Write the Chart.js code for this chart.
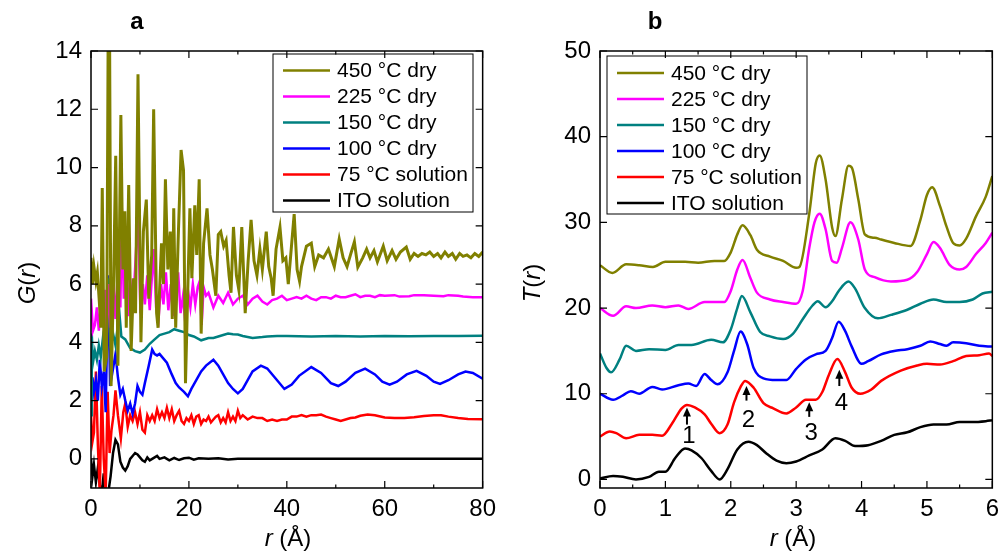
<!DOCTYPE html>
<html>
<head>
<meta charset="utf-8">
<script src="https://cdn.jsdelivr.net/npm/chart.js@4.4.0/dist/chart.umd.min.js"></script>
<style>
  body { margin: 0; background: #fff; }
  #wrap { position: relative; width: 1006px; height: 556px; }
  canvas { position: absolute; top: 0; }
</style>
</head>
<body>
<div id="wrap">
  <canvas id="chart-a" width="503" height="556" style="left:0"></canvas>
  <canvas id="chart-b" width="503" height="556" style="left:503px"></canvas>
</div>
<script>
const FONT = "'Liberation Sans', Arial, sans-serif";

const seriesLabels = ["450 °C dry", "225 °C dry", "150 °C dry", "100 °C dry", "75 °C solution", "ITO solution"];
const seriesColors = ["#808000", "#ff00ff", "#008080", "#0000ff", "#ff0000", "#000000"];

// panel a ticks
const aXLabels = [0, 20, 40, 60, 80];
const aXMinor = [10, 30, 50, 70];
const aYLabels = [0, 2, 4, 6, 8, 10, 12, 14];
// panel b ticks
const bXLabels = [0, 1, 2, 3, 4, 5, 6];
const bXMinor = [0.5, 1.5, 2.5, 3.5, 4.5, 5.5];
const bYLabels = [0, 10, 20, 30, 40, 50];

// panel a: G(r), [r, G]
const gO450 = [[0,6.9],[0.3,6.0],[0.6,6.6],[1.0,6.1],[1.3,6.4],[1.7,5.4],[2.0,4.5],[2.3,9.3],[2.7,3.0],[3.2,3.5],[3.5,14.5],[3.8,14.5],[4.1,2.5],[4.6,6.0],[5.05,10.4],[5.5,3.2],[6.1,11.8],[6.5,6.5],[6.9,8.5],[7.2,4.5],[7.7,9.4],[8.2,3.7],[8.7,6.2],[9.1,5.0],[9.6,13.2],[10.2,4.0],[10.7,7.8],[11.3,8.9],[11.8,5.5],[12.4,7.0],[12.8,12.0],[13.4,5.0],[13.7,4.5],[14.4,7.4],[14.8,6.0],[15.2,9.6],[15.7,6.5],[16.2,7.8],[16.6,4.8],[16.9,8.6],[17.3,4.5],[17.8,7.5],[18.4,10.6],[18.9,9.9],[19.3,2.6],[19.8,6.0],[20.2,8.6],[20.6,6.2],[21.2,8.7],[21.6,7.0],[22.1,9.6],[22.5,4.3],[23.0,7.4],[23.7,8.6],[24.3,7.0],[24.8,6.5],[25.5,5.6],[26.0,7.7],[26.5,7.8],[27.1,7.3],[27.6,7.5],[28.2,6.3],[28.6,5.7],[29.1,7.96],[29.7,6.3],[30.2,5.8],[30.8,7.96],[31.5,5.0],[32.1,6.8],[32.7,8.2],[33.3,6.8],[33.9,6.3],[34.5,7.2],[35.0,6.5],[35.8,7.8],[36.3,6.6],[36.8,6.2],[37.2,5.6],[37.8,7.2],[38.6,7.95],[39.2,6.8],[39.8,6.9],[40.3,6.0],[40.8,7.0],[41.5,8.4],[42.1,6.5],[42.6,6.1],[43.0,6.6],[44.0,7.3],[45.0,7.4],[45.7,6.6],[46.5,7.0],[47.5,6.9],[48.5,7.2],[49.7,6.6],[50.7,7.55],[51.5,6.9],[52.3,6.6],[53.0,7.0],[53.8,7.45],[54.5,6.58],[55.5,6.9],[56.3,7.2],[57.0,6.9],[57.8,7.15],[58.5,6.76],[59.7,7.3],[60.5,6.8],[61.5,7.15],[62.3,6.85],[63.2,7.1],[64.4,7.27],[65.2,6.85],[66.0,7.05],[66.8,6.95],[67.6,7.05],[68.4,7.0],[69.2,7.1],[70.0,6.95],[70.8,7.05],[71.5,6.9],[72.3,7.1],[73.0,6.95],[73.8,7.05],[74.5,6.85],[75.3,7.05],[76.0,6.95],[76.8,7.0],[77.6,6.9],[78.4,7.05],[79.2,6.95],[80,7.1]];
const gM225 = [[0,5.5],[0.4,4.4],[0.8,4.6],[1.2,5.2],[1.6,4.4],[2.0,5.3],[2.4,4.6],[2.8,5.8],[3.2,4.2],[3.6,6.0],[4.0,4.5],[4.5,6.2],[5.0,4.8],[5.5,6.5],[6.0,5.2],[6.3,8.6],[6.7,5.5],[7.2,6.6],[7.6,4.9],[8.0,6.2],[8.5,5.0],[9.0,6.5],[9.6,8.5],[10.1,5.0],[10.6,6.0],[11.0,5.3],[11.5,6.3],[12.0,5.1],[12.5,6.4],[12.8,7.2],[13.3,5.2],[13.8,4.8],[14.3,6.0],[14.8,5.3],[15.3,6.4],[15.8,5.1],[16.3,6.0],[16.8,4.9],[17.3,5.8],[17.8,6.4],[18.3,5.0],[18.8,5.6],[19.3,4.6],[19.8,5.8],[20.3,5.2],[20.8,6.0],[21.3,5.3],[21.8,5.9],[22.2,6.1],[22.6,4.6],[23.0,5.9],[23.5,5.6],[24,5.7],[25,5.2],[26,5.6],[27,5.35],[28,5.7],[29,5.3],[30,5.5],[31,5.6],[32,5.3],[33,5.5],[34,5.6],[35,5.4],[36,5.3],[37,5.45],[38,5.5],[39,5.6],[40,5.45],[41,5.5],[42,5.55],[43,5.5],[44,5.6],[45,5.5],[46,5.45],[47,5.55],[48,5.55],[49,5.5],[50,5.6],[51,5.55],[52,5.55],[53,5.6],[54,5.65],[55,5.55],[56,5.6],[57,5.6],[58,5.55],[59,5.62],[60,5.6],[62,5.62],[63,5.57],[65,5.58],[66,5.62],[68,5.62],[70,5.6],[72,5.58],[73,5.62],[75,5.6],[76,5.57],[78,5.55],[80,5.55]];
const gT150 = [[0,1.5],[0.15,4.3],[0.4,3.3],[0.8,3.7],[1.2,3.4],[1.6,3.9],[2.0,3.5],[2.4,4.1],[2.8,3.6],[3.2,4.0],[3.6,6.2],[4.0,3.8],[4.5,4.3],[5.0,3.9],[5.8,5.0],[6.2,4.2],[7,4.1],[8,3.8],[9,3.7],[10,3.65],[11,3.75],[12,3.95],[13,4.1],[14,4.25],[15,4.3],[16,4.35],[17,4.45],[18,4.4],[19,4.35],[20,4.25],[21,4.2],[22.5,4.07],[24,4.15],[25,4.15],[26,4.2],[27,4.25],[28,4.3],[29,4.28],[30,4.27],[31,4.22],[33,4.15],[35,4.18],[36,4.2],[38,4.22],[40,4.22],[45,4.2],[50,4.22],[55,4.2],[60,4.22],[65,4.21],[70,4.22],[75,4.22],[80,4.23]];
const gB100 = [[0,2.0],[0.3,2.8],[0.6,2.3],[1.0,2.7],[1.4,2.0],[1.8,3.4],[2.2,2.5],[2.6,3.0],[3.0,1.6],[3.5,6.3],[3.9,2.5],[4.4,3.0],[5.0,3.6],[5.5,2.8],[6.0,2.2],[6.5,2.4],[7.0,2.0],[7.5,1.65],[8.0,1.9],[8.5,1.55],[9.0,1.9],[9.5,2.5],[10.0,2.3],[10.5,2.2],[11.0,2.6],[11.8,3.2],[12.5,3.75],[13,3.6],[13.5,3.55],[14,3.6],[14.5,3.5],[15.5,3.3],[16.5,2.9],[17.3,2.6],[18,2.45],[19,2.3],[19.8,2.15],[20.5,2.4],[21.5,2.7],[22.5,3.0],[23.5,3.2],[25,3.4],[26,3.2],[27,2.9],[28,2.6],[29,2.4],[30,2.25],[31,2.4],[32,2.7],[33,3.0],[34.7,3.2],[36,3.1],[37.5,2.8],[39.5,2.4],[41,2.55],[42.5,2.85],[45,3.15],[47,2.95],[49,2.6],[50.5,2.5],[52,2.65],[54,2.95],[56,3.1],[58,2.9],[59.5,2.65],[61,2.55],[62.5,2.65],[64.5,2.9],[66.5,3.02],[68.5,2.85],[70,2.65],[71.3,2.57],[73,2.7],[75,2.9],[76.5,3.0],[78,2.95],[80,2.75]];
const gR75 = [[0,1.5],[0.3,0.6],[0.6,0.9],[1.0,3.0],[1.4,0.5],[1.8,-1.2],[2.2,2.5],[2.6,0.0],[3.0,-1.2],[3.4,2.3],[3.8,0.2],[4.2,1.0],[4.6,1.5],[5.0,2.35],[5.5,1.5],[6.1,0.7],[6.6,1.6],[7.0,1.9],[7.5,1.1],[8.0,1.5],[8.5,1.3],[9.0,1.6],[9.5,1.2],[10.0,1.6],[10.5,1.0],[11.0,0.9],[11.5,1.5],[12,1.3],[12.5,1.5],[13,1.3],[13.5,1.7],[14,1.4],[14.5,1.6],[15,1.4],[15.5,1.75],[16,1.4],[16.5,1.7],[17,1.3],[17.5,1.5],[18,1.65],[18.5,1.3],[19,1.2],[19.5,1.4],[20,1.3],[20.5,1.5],[21,1.2],[21.5,1.45],[22,1.5],[22.5,1.2],[23,1.35],[23.5,1.3],[24,1.45],[24.5,1.25],[25,1.35],[25.5,1.45],[26,1.5],[26.5,1.25],[27,1.4],[27.5,1.25],[28,1.6],[28.5,1.3],[29,1.45],[29.5,1.3],[30,1.65],[30.5,1.4],[31,1.5],[32,1.35],[33,1.45],[34,1.4],[35,1.4],[36,1.3],[37,1.35],[38,1.3],[39,1.35],[40,1.35],[41,1.45],[42,1.45],[43,1.5],[44,1.45],[45,1.5],[46,1.5],[47,1.52],[48,1.45],[49,1.4],[50,1.35],[51,1.3],[52,1.35],[53,1.4],[54,1.42],[55,1.48],[56.5,1.52],[58,1.5],[60,1.42],[62,1.4],[64,1.4],[66,1.43],[68,1.47],[70,1.5],[71.5,1.5],[73,1.45],[75,1.4],[77,1.37],[80,1.36]];
const gIto = [[0,0],[0.3,-0.6],[0.6,-0.2],[1,-0.8],[1.4,-0.3],[1.8,-0.9],[2.2,-1.2],[2.6,-0.5],[3,-1.2],[3.5,-1.2],[4,-0.6],[4.5,0.2],[5,0.65],[5.5,0.5],[6,-0.1],[6.5,-0.3],[7,-0.4],[7.5,-0.25],[8,0],[8.5,0.1],[9,0.2],[9.5,0.15],[10,0.05],[10.5,-0.05],[11,-0.1],[11.5,0.05],[12,-0.05],[12.5,0.0],[13,0.05],[13.5,0.1],[14,0.0],[15,0.05],[16,-0.05],[17,0.03],[18,-0.04],[19,0.02],[20,0.04],[21,-0.03],[22,0.02],[24,0.0],[26,0.02],[28,-0.02],[30,0.0],[40,0.0],[50,0.0],[60,0.0],[70,0.0],[80,0.0]];

// panel b: T(r), [r, T]
const tO450 = [[0,25.0],[0.19,24.1],[0.4,25.1],[0.6,25.0],[0.81,24.8],[1.0,25.4],[1.3,25.4],[1.5,25.3],[1.75,25.5],[1.9,25.5],[2.0,26.5],[2.1,28.6],[2.18,29.65],[2.3,28.5],[2.4,26.8],[2.6,26.0],[2.8,25.5],[3.0,24.7],[3.05,24.8],[3.2,31.0],[3.3,36.9],[3.36,37.8],[3.45,35.0],[3.55,29.4],[3.6,28.4],[3.7,32.7],[3.8,36.6],[3.85,36.4],[3.95,32.7],[4.05,28.6],[4.2,28.2],[4.3,28.0],[4.5,27.6],[4.75,27.25],[4.9,30.3],[5.0,33.2],[5.08,34.1],[5.2,31.9],[5.3,29.5],[5.4,27.6],[5.5,27.3],[5.6,28.1],[5.75,30.7],[5.9,33.0],[6.0,35.4]];
const tM225 = [[0,20.0],[0.2,19.1],[0.4,20.2],[0.55,20.0],[0.8,20.3],[1.0,20.1],[1.2,20.3],[1.35,19.9],[1.6,20.7],[1.9,20.7],[2.0,22.0],[2.1,24.5],[2.18,25.6],[2.3,23.5],[2.4,21.8],[2.6,21.0],[2.8,20.7],[3.0,20.5],[3.1,22.0],[3.2,27.0],[3.28,30.0],[3.36,31.0],[3.45,29.2],[3.55,25.5],[3.62,25.3],[3.7,27.0],[3.83,30.0],[3.95,28.0],[4.05,24.5],[4.2,23.6],[4.45,23.1],[4.7,23.3],[4.85,24.2],[5.0,26.3],[5.1,27.7],[5.2,27.0],[5.35,25.0],[5.5,24.5],[5.6,24.8],[5.75,26.3],[5.9,27.6],[6.0,28.8]];
const tT150 = [[0,14.7],[0.1,13.0],[0.17,12.5],[0.3,14.0],[0.4,15.6],[0.55,15.0],[0.75,15.2],[1.0,15.1],[1.2,15.7],[1.4,15.7],[1.7,16.3],[1.88,16.0],[2.0,17.5],[2.1,20.0],[2.17,21.4],[2.3,19.5],[2.45,17.2],[2.6,16.7],[2.8,16.4],[2.95,17.0],[3.1,18.7],[3.25,20.3],[3.33,20.8],[3.45,20.1],[3.55,20.8],[3.65,22.0],[3.8,23.1],[3.9,22.3],[4.05,20.0],[4.25,18.8],[4.45,19.2],[4.7,19.8],[4.9,20.5],[5.1,21.0],[5.3,20.7],[5.5,20.7],[5.7,21.0],[5.85,21.7],[6.0,21.9]];
const tB100 = [[0,10.0],[0.2,9.3],[0.35,9.8],[0.47,10.3],[0.6,10.0],[0.8,10.8],[0.95,10.5],[1.2,11.0],[1.35,11.2],[1.47,10.9],[1.6,12.3],[1.7,11.6],[1.8,11.1],[1.95,12.5],[2.05,15.0],[2.15,17.25],[2.25,15.8],[2.35,13.0],[2.5,11.8],[2.7,11.6],[2.85,11.6],[3.0,12.9],[3.15,14.0],[3.3,14.6],[3.45,15.0],[3.55,16.5],[3.65,18.4],[3.75,17.3],[3.85,15.5],[4.0,13.5],[4.1,13.8],[4.3,14.6],[4.5,15.0],[4.7,15.2],[4.9,15.6],[5.05,16.1],[5.2,15.8],[5.3,15.6],[5.4,16.0],[5.6,15.9],[5.8,15.6],[6.0,15.5]];
const tR75 = [[0,5.0],[0.15,5.6],[0.25,5.4],[0.4,4.8],[0.6,5.2],[0.8,5.2],[0.95,5.1],[1.1,6.5],[1.25,8.3],[1.33,8.7],[1.45,8.4],[1.6,7.6],[1.7,6.5],[1.83,5.4],[1.95,6.4],[2.05,9.0],[2.15,10.8],[2.22,11.5],[2.35,10.7],[2.5,8.9],[2.65,8.3],[2.85,7.7],[3.0,8.4],[3.15,9.3],[3.3,9.3],[3.4,10.2],[3.5,12.2],[3.63,14.05],[3.75,12.5],[3.85,10.7],[3.98,10.0],[4.15,10.5],[4.3,11.5],[4.6,12.7],[4.85,13.3],[5.0,13.5],[5.2,13.4],[5.4,13.8],[5.6,14.4],[5.8,14.5],[5.95,14.7],[6.0,14.4]];
const tIto = [[0,0.1],[0.2,0.4],[0.35,0.3],[0.55,0.0],[0.75,0.3],[0.9,0.9],[1.0,0.9],[1.15,2.5],[1.3,3.6],[1.4,3.4],[1.55,2.5],[1.7,1.0],[1.83,0.0],[1.95,1.2],[2.1,3.5],[2.27,4.4],[2.4,4.0],[2.55,3.0],[2.7,2.2],[2.85,1.9],[3.0,2.1],[3.2,2.8],[3.4,3.5],[3.6,4.8],[3.75,4.5],[3.9,3.9],[4.1,4.0],[4.3,4.5],[4.5,5.2],[4.7,5.5],[4.9,6.1],[5.1,6.4],[5.3,6.4],[5.5,6.7],[5.7,6.7],[5.9,6.8],[6.0,6.9]];

// peak markers in panel b: [label, r, arrow tail T, arrow head T, label T]
const peakMarks = [["1", 1.33, 6.4, 8.4, 5.0], ["2", 2.24, 9.2, 10.9, 6.9], ["3", 3.2, 7.3, 9.0, 5.4], ["4", 3.66, 10.9, 12.8, 8.85]];

const gSeries = [gO450, gM225, gT150, gB100, gR75, gIto];
const tSeries = [tO450, tM225, tT150, tB100, tR75, tIto];

const drawRich = (ctx, parts, cx, cy, size, rotate) => {
  ctx.save();
  ctx.translate(cx, cy);
  if (rotate) ctx.rotate(-Math.PI / 2);
  const fonts = parts.map((p) => (p[1] ? "italic " : "") + size + "px " + FONT);
  let total = 0;
  parts.forEach((p, i) => { ctx.font = fonts[i]; total += ctx.measureText(p[0]).width; });
  let x = -total / 2;
  ctx.fillStyle = "#000";
  ctx.textBaseline = "middle";
  ctx.textAlign = "left";
  parts.forEach((p, i) => {
    ctx.font = fonts[i];
    ctx.fillText(p[0], x, 0);
    x += ctx.measureText(p[0]).width;
  });
  ctx.restore();
};

const decor = (opt) => ({
  id: "decor" + opt.letter,
  afterDraw(chart) {
    const { ctx, chartArea, scales } = chart;
    const { left, right, top, bottom } = chartArea;
    ctx.save();
    ctx.strokeStyle = "#000";
    ctx.lineWidth = 1.5;
    ctx.strokeRect(left, top, right - left, bottom - top);

    // inward ticks on all four sides
    ctx.lineWidth = 1.2;
    ctx.beginPath();
    const xt = (vals, len) => vals.forEach((v) => {
      const px = scales.x.getPixelForValue(v);
      ctx.moveTo(px, bottom); ctx.lineTo(px, bottom - len);
      ctx.moveTo(px, top); ctx.lineTo(px, top + len);
    });
    xt(opt.xMajor, 7);
    xt(opt.xMinor, 3.5);
    opt.yMajor.forEach((v) => {
      const py = scales.y.getPixelForValue(v);
      ctx.moveTo(left, py); ctx.lineTo(left + 7, py);
      ctx.moveTo(right, py); ctx.lineTo(right - 7, py);
    });
    ctx.stroke();

    // legend
    const lg = opt.legend;
    ctx.lineWidth = 1;
    ctx.strokeStyle = "#000";
    ctx.strokeRect(lg.x, lg.y, lg.w, lg.h);
    ctx.font = "21px " + FONT;
    ctx.textBaseline = "middle";
    ctx.textAlign = "left";
    seriesLabels.forEach((lab, i) => {
      const yy = lg.firstY + i * lg.step;
      ctx.strokeStyle = seriesColors[i];
      ctx.lineWidth = 2.5;
      ctx.beginPath();
      ctx.moveTo(lg.lineX0, yy);
      ctx.lineTo(lg.lineX1, yy);
      ctx.stroke();
      ctx.fillStyle = "#000";
      ctx.fillText(lab, lg.textX, yy + 1);
    });

    // peak arrows
    (opt.marks || []).forEach(([lab, r, t0, t1, tl]) => {
      const px = scales.x.getPixelForValue(r);
      const y0 = scales.y.getPixelForValue(t0);
      const y1 = scales.y.getPixelForValue(t1);
      ctx.strokeStyle = "#000";
      ctx.fillStyle = "#000";
      ctx.lineWidth = 2;
      ctx.beginPath();
      ctx.moveTo(px, y0);
      ctx.lineTo(px, y1 + 5);
      ctx.stroke();
      ctx.beginPath();
      ctx.moveTo(px, y1);
      ctx.lineTo(px - 4, y1 + 9);
      ctx.lineTo(px + 4, y1 + 9);
      ctx.closePath();
      ctx.fill();
      ctx.font = "24px " + FONT;
      ctx.textAlign = "center";
      ctx.textBaseline = "middle";
      ctx.fillText(lab, px + 2, scales.y.getPixelForValue(tl));
    });

    // axis titles and panel letter
    drawRich(ctx, opt.yTitle, opt.yTitlePos[0], opt.yTitlePos[1], 24, true);
    drawRich(ctx, [["r", true], [" (Å)", false]], opt.xTitlePos[0], opt.xTitlePos[1], 24, false);
    ctx.font = "bold 24px " + FONT;
    ctx.fillStyle = "#000";
    ctx.textAlign = "center";
    ctx.textBaseline = "middle";
    ctx.fillText(opt.letter, opt.letterPos[0], opt.letterPos[1]);
    ctx.restore();
  },
});

const tickFont = { family: FONT, size: 24 };

const makeChart = (id, series, cfg) => new Chart(document.getElementById(id), {
  type: "line",
  data: {
    datasets: series.map((pts, i) => ({
      label: seriesLabels[i],
      data: pts.map(([x, y]) => ({ x, y })),
      borderColor: seriesColors[i],
      borderWidth: cfg.widths[i],
      pointRadius: 0,
      fill: false,
      tension: cfg.smooth ? 0.4 : 0,
      cubicInterpolationMode: cfg.smooth ? "monotone" : "default",
    })),
  },
  options: {
    responsive: false,
    animation: false,
    layout: { padding: { left: 0, right: cfg.padRight, top: 51, bottom: 0 } },
    plugins: { legend: { display: false }, tooltip: { enabled: false } },
    scales: {
      x: {
        type: "linear",
        min: cfg.xMin,
        max: cfg.xMax,
        afterBuildTicks: (s) => { s.ticks = cfg.xLabels.map((v) => ({ value: v })); },
        afterFit: (s) => { s.height = 68; },
        grid: { display: false, drawTicks: false },
        border: { display: false },
        ticks: { font: tickFont, color: "#000", padding: 7, maxRotation: 0, autoSkip: false },
      },
      y: {
        type: "linear",
        min: cfg.yMin,
        max: cfg.yMax,
        afterBuildTicks: (s) => { s.ticks = cfg.yLabels.map((v) => ({ value: v })); },
        afterFit: (s) => { s.width = cfg.axisWidth; },
        grid: { display: false, drawTicks: false },
        border: { display: false },
        ticks: { font: tickFont, color: "#000", padding: 9, autoSkip: false },
      },
    },
  },
  plugins: [decor(cfg.decor)],
});

makeChart("chart-a", gSeries, {
  widths: [3, 2.5, 2.5, 2.5, 2.5, 2.5],
  smooth: false,
  padRight: 17,
  axisWidth: 91,
  xMin: 0, xMax: 80, yMin: -1, yMax: 14,
  xLabels: aXLabels, yLabels: aYLabels,
  decor: {
    letter: "a", letterPos: [137, 22],
    xMajor: aXLabels, xMinor: aXMinor, yMajor: aYLabels,
    yTitle: [["G", true], ["(", false], ["r", true], [")", false]], yTitlePos: [28, 283],
    xTitlePos: [288, 539],
    legend: { x: 273, y: 54, w: 200, h: 158, firstY: 70.5, step: 26, lineX0: 283, lineX1: 330, textX: 337 },
  },
});

makeChart("chart-b", tSeries, {
  widths: [2.5, 2.5, 2.5, 2.5, 2.5, 2.5],
  smooth: true,
  padRight: 12,
  axisWidth: 97,
  xMin: 0, xMax: 6, yMin: -1, yMax: 50,
  xLabels: bXLabels, yLabels: bYLabels,
  decor: {
    letter: "b", letterPos: [152, 22],
    xMajor: bXLabels, xMinor: bXMinor, yMajor: bYLabels,
    yTitle: [["T", true], ["(", false], ["r", true], [")", false]], yTitlePos: [30, 283],
    xTitlePos: [290, 539],
    legend: { x: 104, y: 56, w: 200, h: 158, firstY: 73, step: 26, lineX0: 114, lineX1: 161, textX: 168 },
    marks: peakMarks,
  },
});
</script>
</body>
</html>
